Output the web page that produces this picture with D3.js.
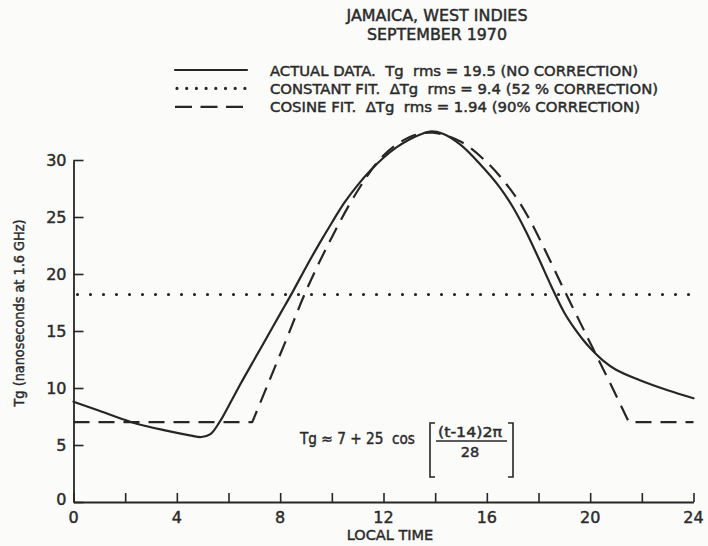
<!DOCTYPE html>
<html>
<head>
<meta charset="utf-8">
<script src="https://cdn.jsdelivr.net/npm/d3@7/dist/d3.min.js"></script>
<style>
  html, body { margin: 0; padding: 0; background: #fbfbfa; }
  svg { display: block; }
  text { font-family: "DejaVu Sans", "Liberation Sans", sans-serif; fill: #2b2b2b; stroke: #2b2b2b; stroke-width: 0.45px; white-space: pre; }
</style>
</head>
<body>
<svg id="chart" width="708" height="546"></svg>
<script>
// Group delay Tg over one day, Jamaica, September 1970
const actualHours = [0, 1, 2.25, 3.5, 4.5, 4.95, 5.3, 5.65, 6.0, 6.5, 7.0, 7.5, 8.0, 8.5, 9.0, 9.5, 10.0, 10.5, 11.0, 11.5, 12.0, 12.5, 13.0, 13.5, 13.8, 14.3, 15.0, 15.75, 16.5, 17.0, 17.5, 18.0, 18.5, 19.0, 19.4, 19.7, 20.0, 20.5, 21.0, 21.9, 23.0, 24];
const actualTg    = [8.8, 8.0, 7.0, 6.3, 5.85, 5.7, 5.95, 7.0, 8.4, 10.5, 12.5, 14.5, 16.5, 18.5, 20.6, 22.6, 24.5, 26.3, 27.8, 29.1, 30.2, 31.1, 31.8, 32.3, 32.5, 32.3, 31.3, 29.6, 27.6, 25.9, 23.8, 21.4, 18.9, 16.6, 15.2, 14.3, 13.5, 12.4, 11.6, 10.7, 9.8, 9.1];

// cosine fit: flat floor, the daytime arch, flat tail
const cosineFloorHours = [0, 6.92];
const cosineFloorTg    = [7, 7];
const cosineArchHours  = [6.92, 7.5, 8.3, 8.96, 9.86, 11.0, 12.0, 13.0, 13.9, 15.0, 16.0, 16.75, 17.2, 17.65, 18.1, 18.55, 18.95, 19.6, 20.1, 20.8, 21.5];
const cosineArchTg     = [7, 10.2, 14.6, 18.3, 22.6, 27.3, 30.4, 32.0, 32.4, 31.6, 29.8, 27.9, 26.5, 24.8, 22.8, 20.7, 18.8, 15.8, 13.5, 10.3, 7];
const cosineTailHours  = [21.5, 24];
const cosineTailTg     = [7, 7];

// constant fit
const constantTg = 18.2;

const xTicks = [0, 2, 4, 6, 8, 10, 12, 14, 16, 18, 20, 22, 24];
const xTickLabels = [0, 4, 8, 12, 16, 20, 24];
const yTicks = [0, 5, 10, 15, 20, 25, 30];

const titleLines = ["JAMAICA, WEST INDIES", "SEPTEMBER 1970"];
const legendLabels = [
  "ACTUAL DATA.  Tg  rms = 19.5 (NO CORRECTION)",
  "CONSTANT FIT.  \u0394Tg  rms = 9.4 (52 % CORRECTION)",
  "COSINE FIT.  \u0394Tg  rms = 1.94 (90% CORRECTION)"
];
const xTitle = "LOCAL TIME";
const yTitle = "Tg (nanoseconds at 1.6 GHz)";

const ink = "#262626";
const svg = d3.select("#chart");

const x = d3.scaleLinear().domain([0, 24]).range([73.5, 693.5]);
const y = d3.scaleLinear().domain([0, 30]).range([502, 160]);

const styles = {
  solid:  { width: 2.2, dash: null, cap: "round" },
  dotted: { width: 3.2, dash: "0,13", cap: "round" },
  dashed: { width: 2.2, dash: "16,9", cap: "butt" }
};
function applyStyle(sel, s) {
  sel.attr("fill", "none").attr("stroke", ink).attr("stroke-width", s.width)
     .attr("stroke-linecap", s.cap).attr("stroke-linejoin", "round");
  if (s.dash) sel.attr("stroke-dasharray", s.dash);
  return sel;
}

// axes: ticks point inward
const xAxis = d3.axisBottom(x).tickValues(xTicks).tickSizeInner(-9).tickSizeOuter(0).tickFormat("");
const yAxis = d3.axisLeft(y).tickValues(yTicks).tickSizeInner(-10).tickSizeOuter(0).tickFormat("");

const gx = svg.append("g").attr("transform", `translate(0,${y(0)})`).call(xAxis);
const gy = svg.append("g").attr("transform", `translate(${x(0)},0)`).call(yAxis);
[gx, gy].forEach(g => {
  g.select(".domain").attr("stroke", ink).attr("stroke-width", 1.8);
  g.selectAll(".tick line").attr("stroke", ink).attr("stroke-width", 1.6);
});

// tick labels
svg.append("g").selectAll("text").data(xTickLabels).join("text")
  .attr("x", d => x(d)).attr("y", y(0) + 21)
  .attr("text-anchor", "middle").attr("font-size", 16)
  .text(d => d);
svg.append("g").selectAll("text").data(yTicks).join("text")
  .attr("x", x(0) - 7).attr("y", d => y(d) + 6 + (d === 0 ? -3 : 0))
  .attr("text-anchor", "end").attr("font-size", 16)
  .text(d => d);

// axis titles
svg.append("text").attr("x", 390).attr("y", 540).attr("text-anchor", "middle")
  .attr("font-size", 14.5).text(xTitle);
svg.append("text").attr("transform", `translate(24,313) rotate(-90)`)
  .attr("text-anchor", "middle").attr("font-size", 14.5)
  .attr("textLength", 187).attr("lengthAdjust", "spacingAndGlyphs").text(yTitle);

// series
const lineLinear = d3.line().x(d => x(d[0])).y(d => y(d[1]));
const lineSmooth = d3.line().x(d => x(d[0])).y(d => y(d[1])).curve(d3.curveCatmullRom.alpha(0.5));
const zip = (a, b) => a.map((v, i) => [v, b[i]]);

applyStyle(svg.append("path"), styles.dotted)
  .attr("d", lineLinear([[0, constantTg], [24, constantTg]]))
  .attr("transform", "translate(4,0)");

const cosinePath = lineLinear(zip(cosineFloorHours, cosineFloorTg)) +
  lineSmooth(zip(cosineArchHours, cosineArchTg)).replace(/^M/, "L") +
  lineLinear(zip(cosineTailHours, cosineTailTg)).replace(/^M/, "L");
applyStyle(svg.append("path"), styles.dashed).attr("d", cosinePath);

applyStyle(svg.append("path"), styles.solid).attr("d", lineSmooth(zip(actualHours, actualTg)));

// title
const titleWidths = [181, 140];
svg.append("g").selectAll("text").data(titleLines).join("text")
  .attr("x", 437).attr("y", (d, i) => 21 + i * 18.5)
  .attr("text-anchor", "middle").attr("font-size", 15)
  .attr("textLength", (d, i) => titleWidths[i]).attr("lengthAdjust", "spacingAndGlyphs")
  .text(d => d);

// legend
const legendKeys = [styles.solid, styles.dotted, styles.dashed];
const legendDash = [null, "0,9.7", "17,8.5"];
const legendWidths = [368, 388, 370];
const lg = svg.append("g");
legendKeys.forEach((s, i) => {
  const ly = 70 + i * 18.4;
  applyStyle(lg.append("line"), s)
    .attr("x1", i === 1 ? 177 : 175).attr("x2", 247).attr("y1", ly).attr("y2", ly)
    .attr("stroke-dasharray", legendDash[i]);
  lg.append("text").attr("x", 270).attr("y", ly + 5.5).attr("font-size", 14)
    .attr("textLength", legendWidths[i]).attr("lengthAdjust", "spacingAndGlyphs")
    .text(legendLabels[i]);
});

// fit formula
const f = svg.append("g");
f.append("text").attr("x", 300).attr("y", 444).attr("font-size", 15)
  .attr("textLength", 115).attr("lengthAdjust", "spacingAndGlyphs").text("Tg \u2248 7 + 25  cos");
f.append("path").attr("fill", "none").attr("stroke", ink).attr("stroke-width", 1.6)
  .attr("d", "M435,423 H430 V477 H435 M508,423 H513 V477 H508");
f.append("text").attr("x", 470).attr("y", 437).attr("text-anchor", "middle").attr("font-size", 14)
  .attr("textLength", 64).attr("lengthAdjust", "spacingAndGlyphs").text("(t-14)2\u03c0");
f.append("line").attr("x1", 436).attr("x2", 507).attr("y1", 441).attr("y2", 441)
  .attr("stroke", ink).attr("stroke-width", 1.4);
f.append("text").attr("x", 470).attr("y", 457).attr("text-anchor", "middle").attr("font-size", 14.5).text("28");
</script>
</body>
</html>
